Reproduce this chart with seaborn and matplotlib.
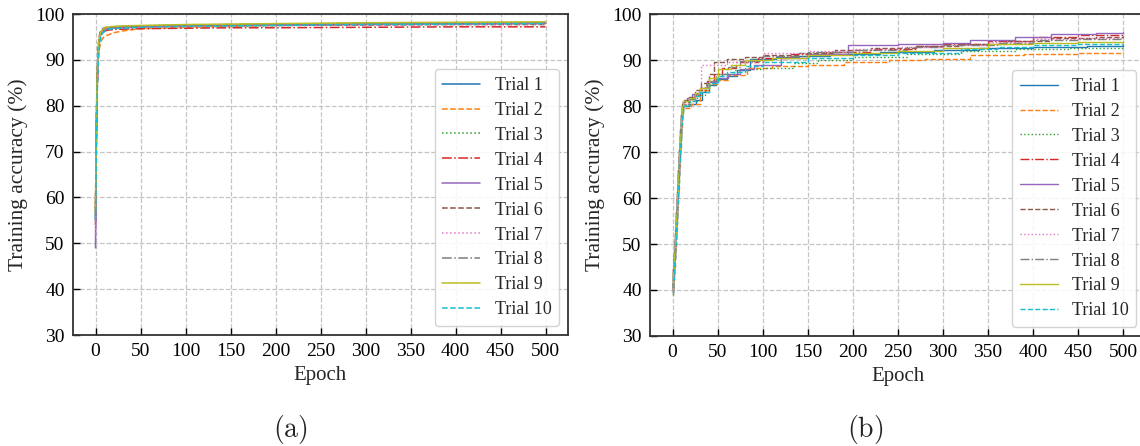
import matplotlib
matplotlib.use("Agg")
import matplotlib.pyplot as plt
import seaborn as sns
import pandas as pd

# ---------------- data ----------------
trial_labels = ["Trial 1", "Trial 2", "Trial 3", "Trial 4", "Trial 5",
                "Trial 6", "Trial 7", "Trial 8", "Trial 9", "Trial 10"]
x_ticks = [0, 50, 100, 150, 200, 250, 300, 350, 400, 450, 500]
y_ticks = [30, 40, 50, 60, 70, 80, 90, 100]

# Panel (a): shared epoch grid
a_epochs = [0, 1, 2, 3, 4, 5, 6, 8, 10, 12, 15, 20, 30, 50, 100, 150, 200, 300, 400, 500]
a_t1 = [55, 75, 86, 91.5, 93.8, 95.0, 95.7, 96.2, 96.5, 96.7, 96.8, 96.9, 97.0, 97.2, 97.4, 97.5, 97.6, 97.8, 97.9, 98.0]
a_t2 = [57, 74, 84, 89.5, 92.0, 93.3, 94.0, 94.7, 95.1, 95.3, 95.5, 95.9, 96.3, 96.8, 97.1, 97.3, 97.5, 97.7, 97.8, 97.9]
a_t3 = [56, 77, 87, 92.0, 94.3, 95.4, 96.0, 96.5, 96.8, 97.0, 97.1, 97.2, 97.3, 97.4, 97.6, 97.7, 97.8, 98.0, 98.1, 98.2]
a_t4 = [54, 74, 85, 91.0, 93.6, 94.8, 95.5, 96.0, 96.2, 96.4, 96.5, 96.6, 96.7, 96.8, 96.9, 97.0, 97.0, 97.1, 97.2, 97.2]
a_t5 = [49, 72, 85, 91.5, 94.2, 95.3, 96.0, 96.5, 96.8, 96.9, 97.0, 97.1, 97.2, 97.3, 97.5, 97.6, 97.7, 97.8, 97.9, 98.0]
a_t6 = [58, 78, 88, 93.0, 95.0, 95.9, 96.4, 96.8, 97.0, 97.1, 97.2, 97.2, 97.2, 97.3, 97.4, 97.5, 97.5, 97.6, 97.7, 97.7]
a_t7 = [52, 73, 85, 91.0, 93.7, 94.9, 95.6, 96.2, 96.5, 96.7, 96.8, 96.9, 97.0, 97.1, 97.3, 97.4, 97.5, 97.6, 97.7, 97.8]
a_t8 = [56, 76, 87, 92.2, 94.5, 95.5, 96.1, 96.6, 96.9, 97.0, 97.1, 97.2, 97.3, 97.4, 97.6, 97.7, 97.8, 97.9, 98.0, 98.1]
a_t9 = [57, 77, 87, 92.0, 94.4, 95.5, 96.1, 96.6, 96.9, 97.1, 97.2, 97.3, 97.4, 97.5, 97.7, 97.8, 97.9, 98.1, 98.2, 98.3]
a_t10 = [55, 72, 83, 89.5, 92.5, 94.0, 95.0, 95.8, 96.2, 96.5, 96.7, 96.8, 96.9, 97.1, 97.3, 97.4, 97.5, 97.7, 97.8, 97.9]

# Panel (b): per-trial step breakpoints (best accuracy so far)
b_ep1 = [0, 1, 2, 3, 4, 5, 6, 7, 8, 9, 10, 12, 18, 26, 33, 40, 48, 60, 72, 86, 115, 140, 175, 230, 290, 340, 400, 460, 500]
b_t1 = [40.0, 43.5, 47, 51, 55.5, 60, 64.5, 69, 73, 77, 79, 80, 80.5, 81.2, 83, 84.5, 85.8, 86.5, 87.8, 90.3, 90.6, 90.9, 91.2, 91.7, 92.2, 92.6, 92.9, 93.1, 93.2]
b_ep2 = [0, 1, 2, 3, 4, 5, 6, 7, 8, 9, 10, 12, 20, 31, 40, 49, 62, 83, 110, 150, 190, 240, 280, 330, 390, 450, 500]
b_t2 = [39.0, 41.5, 45, 49, 53, 58, 62, 67, 71, 75, 78, 79.5, 80.5, 83.5, 84.8, 85.7, 86.8, 88.2, 88.6, 89.0, 89.5, 90.0, 90.3, 91.0, 91.3, 91.6, 91.8]
b_ep3 = [0, 1, 2, 3, 4, 5, 6, 7, 8, 9, 10, 12, 19, 27, 36, 45, 55, 68, 80, 100, 135, 161, 200, 260, 320, 380, 440, 500]
b_t3 = [40.5, 44, 48, 52, 56, 61, 65.5, 70, 74, 77.5, 79.5, 80.3, 81, 82.5, 84.5, 86, 87, 87.8, 88.0, 88.2, 89.3, 90.0, 90.6, 91.3, 91.9, 92.4, 92.7, 92.9]
b_ep4 = [0, 1, 2, 3, 4, 5, 6, 7, 8, 9, 10, 12, 17, 24, 30, 38, 46, 55, 70, 95, 130, 170, 220, 270, 300, 350, 400, 450, 500]
b_t4 = [40, 44.5, 48.5, 52.5, 57, 61.5, 66, 70.5, 74.5, 78, 80, 80.8, 81.5, 82.5, 83.5, 85.5, 87, 88.3, 89.5, 90.5, 91.2, 91.8, 92.5, 93.0, 93.5, 94.2, 95.0, 95.4, 95.7]
b_ep5 = [0, 1, 2, 3, 4, 5, 6, 7, 8, 9, 10, 12, 16, 22, 30, 38, 50, 62, 75, 90, 120, 150, 195, 250, 300, 330, 380, 420, 470, 500]
b_t5 = [39.5, 43, 47, 51, 55.5, 60.5, 65, 69.5, 73.5, 77.5, 80, 81, 81.8, 82.6, 84, 85.2, 86.1, 87, 88, 89, 90.5, 91.3, 93.3, 93.5, 93.8, 94.3, 95.0, 95.6, 95.9, 96.0]
b_ep6 = [0, 1, 2, 3, 4, 5, 6, 7, 8, 9, 10, 12, 18, 25, 32, 40, 46, 60, 80, 100, 140, 180, 220, 270, 320, 370, 420, 470, 500]
b_t6 = [40.5, 44.5, 48.5, 53, 57.5, 62, 66.5, 71, 75, 78.5, 80.5, 81.2, 82, 83.5, 85, 87, 89.5, 90.2, 90.6, 91.0, 91.6, 92.2, 92.6, 93.1, 93.5, 94.1, 94.8, 95.1, 95.3]
b_ep7 = [0, 1, 2, 3, 4, 5, 6, 7, 8, 9, 10, 12, 18, 25, 32, 60, 100, 150, 200, 250, 300, 350, 400, 450, 500]
b_t7 = [40, 44, 48, 52, 56.5, 61, 65.5, 70, 74, 77.5, 79.5, 80.5, 81.5, 82.8, 88.9, 89.5, 91.6, 91.9, 92.3, 92.8, 93.3, 93.9, 94.5, 94.8, 95.0]
b_ep8 = [0, 1, 2, 3, 4, 5, 6, 7, 8, 9, 10, 12, 18, 24, 30, 38, 48, 60, 75, 100, 150, 200, 260, 300, 360, 400, 450, 500]
b_t8 = [39.5, 43.5, 47.5, 51.5, 56, 60.5, 65, 69.5, 73.5, 77, 79.5, 80.5, 81.5, 82.8, 84, 85.5, 87, 88.5, 89.8, 90.8, 91.8, 92.2, 92.8, 93.3, 93.8, 94.3, 94.6, 94.8]
b_ep9 = [0, 1, 2, 3, 4, 5, 6, 7, 8, 9, 10, 12, 18, 25, 30, 40, 50, 65, 80, 110, 150, 200, 250, 300, 350, 400, 450, 500]
b_t9 = [40, 44, 48, 52, 56.5, 61, 65.5, 70, 74, 77.5, 80, 81, 81.8, 82.8, 84, 86, 88, 89, 90, 90.5, 91, 91.5, 92, 92.6, 93.5, 93.8, 94.0, 94.2]
b_ep10 = [0, 1, 2, 3, 4, 5, 6, 7, 8, 9, 10, 12, 18, 25, 30, 40, 50, 60, 80, 100, 150, 200, 250, 320, 360, 400, 450, 500]
b_t10 = [39, 42.5, 46, 50, 54.5, 59, 63.5, 68, 72, 76, 78.5, 80, 81, 82.2, 83, 85, 86.5, 87.5, 88.8, 89.5, 90.5, 91, 91.5, 92.5, 92.9, 93.3, 93.4, 93.5]

# ---------------- style ----------------
sns.set_style("whitegrid")
plt.rcParams["font.family"] = ["Liberation Serif", "DejaVu Serif"]
plt.rcParams["mathtext.fontset"] = "cm"

palette = sns.color_palette("tab10", 10)
styles = ["-", "--", ":", "-.", "-", "--", ":", "-.", "-", "--"]

fig = plt.figure(figsize=(11.4, 4.46), dpi=100)
ax1 = fig.add_axes([73 / 1140, 111 / 446, 495 / 1140, 321 / 446])
ax2 = fig.add_axes([650 / 1140, 110 / 446, 495.5 / 1140, 322 / 446])

a_series = [a_t1, a_t2, a_t3, a_t4, a_t5, a_t6, a_t7, a_t8, a_t9, a_t10]
b_epochs = [b_ep1, b_ep2, b_ep3, b_ep4, b_ep5, b_ep6, b_ep7, b_ep8, b_ep9, b_ep10]
b_series = [b_t1, b_t2, b_t3, b_t4, b_t5, b_t6, b_t7, b_t8, b_t9, b_t10]

for i, lab in enumerate(trial_labels):
    df = pd.DataFrame({"Epoch": a_epochs, "Acc": a_series[i]})
    sns.lineplot(data=df, x="Epoch", y="Acc", ax=ax1, color=palette[i],
                 linestyle=styles[i], linewidth=1.1, label=lab, errorbar=None)
for i, lab in enumerate(trial_labels):
    df = pd.DataFrame({"Epoch": b_epochs[i], "Acc": b_series[i]})
    sns.lineplot(data=df, x="Epoch", y="Acc", ax=ax2, color=palette[i],
                 linestyle=styles[i], linewidth=1.0, label=lab, errorbar=None,
                 drawstyle="steps-post")

for ax in (ax1, ax2):
    ax.set_xlim(-25, 525)
    ax.set_ylim(30, 100)
    ax.set_xticks(x_ticks)
    ax.set_yticks(y_ticks)
    ax.tick_params(axis="both", direction="in", length=5, width=1.0,
                   labelsize=14, colors="black", bottom=True, left=True,
                   top=False, right=False, pad=6)
    ax.grid(True, linestyle="--", color="#c4c4c4", linewidth=0.9)
    for s in ax.spines.values():
        s.set_color("#333333")
        s.set_linewidth(1.3)
    ax.set_xlabel("Epoch", fontsize=15, labelpad=4)
    ax.set_ylabel("Training accuracy (%)", fontsize=15.5, labelpad=5)
    leg = ax.legend(loc="lower right", fontsize=13, handlelength=2.1,
                    labelspacing=0.44, borderpad=0.42, framealpha=0.85)
    leg.get_frame().set_edgecolor("#cccccc")

fig.text(290 / 1140, 16 / 446, r"$\mathrm{(a)}$", ha="center", va="center", fontsize=20)
fig.text(865 / 1140, 16 / 446, r"$\mathrm{(b)}$", ha="center", va="center", fontsize=20)

fig.savefig("out.png", dpi=100)
